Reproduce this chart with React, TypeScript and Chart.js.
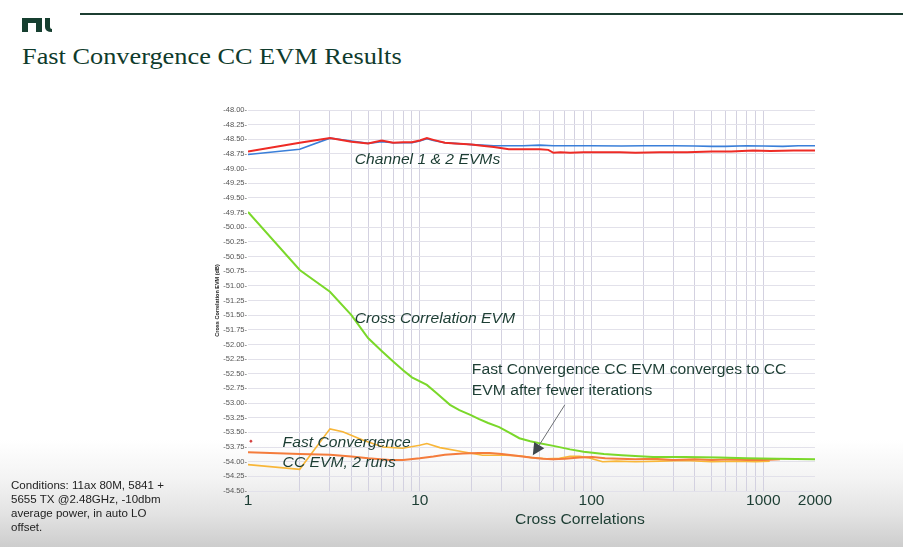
import { useEffect, useRef } from "react";
import { Chart, registerables } from "chart.js";

Chart.register(...registerables);

// ---- data ----
const redX = [1, 2, 3, 4, 5, 6, 7, 8, 9, 10, 11, 12, 14, 16, 18, 20, 23, 27, 33, 40, 50, 56, 60, 66, 75, 90, 110, 146, 180, 250, 360, 500, 650, 870, 1100, 1500, 2000];
const redY = [-48.71, -48.56, -48.48, -48.54, -48.57, -48.52, -48.56, -48.55, -48.55, -48.52, -48.48, -48.51, -48.56, -48.57, -48.58, -48.59, -48.61, -48.63, -48.67, -48.67, -48.67, -48.68, -48.73, -48.72, -48.73, -48.72, -48.72, -48.72, -48.73, -48.72, -48.72, -48.71, -48.71, -48.69, -48.7, -48.69, -48.69];

const blueX = [1, 2, 3, 4, 5, 6, 7, 8, 9, 10, 11, 12, 14, 16, 18, 20, 23, 27, 33, 40, 50, 60, 80, 100, 150, 200, 300, 400, 500, 600, 800, 1000, 1300, 1600, 2000];
const blueY = [-48.76, -48.67, -48.48, -48.53, -48.57, -48.54, -48.56, -48.56, -48.56, -48.53, -48.49, -48.52, -48.56, -48.57, -48.58, -48.59, -48.6, -48.61, -48.61, -48.61, -48.6, -48.61, -48.61, -48.61, -48.615, -48.61, -48.61, -48.615, -48.62, -48.62, -48.61, -48.615, -48.62, -48.61, -48.61];

const greenX = [1, 2, 3, 4, 5, 6, 7, 8, 9, 11, 12.5, 15, 17, 20, 22, 25, 29, 33, 38, 44, 49, 60, 75, 90, 118, 150, 228, 350, 555, 800, 1200, 2000];
const greenY = [-49.74, -50.73, -51.1, -51.5, -51.89, -52.11, -52.29, -52.44, -52.56, -52.69, -52.83, -53.03, -53.12, -53.21, -53.27, -53.34, -53.41, -53.5, -53.6, -53.65, -53.68, -53.73, -53.79, -53.83, -53.87, -53.89, -53.92, -53.92, -53.93, -53.94, -53.95, -53.96];

const orangeX = [1, 2, 3, 4, 5, 6.7, 8, 10, 12, 14, 17.8, 22, 25.5, 30, 34.6, 44, 52, 59.5, 70, 85, 101, 120, 146, 180, 230, 300, 400, 500, 650, 800, 1000, 1250];
const orangeY = [-53.84, -53.87, -53.88, -53.91, -53.94, -53.97, -53.97, -53.94, -53.91, -53.88, -53.86, -53.85, -53.85, -53.87, -53.89, -53.93, -53.95, -53.96, -53.95, -53.93, -53.92, -53.94, -53.95, -53.96, -53.95, -53.97, -53.96, -53.97, -53.96, -53.97, -53.97, -53.96];

const yellowX = [1, 2, 3, 3.56, 4.65, 6.1, 7.94, 10, 11, 13.1, 17.8, 23.2, 31.5, 38, 45, 55, 65, 75, 85, 95, 116, 140, 180, 250, 350, 500, 700, 900, 1090];
const yellowY = [-54.05, -54.13, -53.44, -53.49, -53.63, -53.75, -53.77, -53.72, -53.69, -53.76, -53.83, -53.89, -53.89, -53.9, -53.93, -53.95, -53.94, -53.91, -53.91, -53.93, -54.0, -53.99, -54.0, -53.99, -53.98, -54.0, -53.99, -54.0, -53.99];

const strayX = [1.04];
const strayY = [-53.65];

const xGridValues = [1, 2, 3, 4, 5, 6, 7, 8, 9, 10, 20, 30, 40, 50, 60, 70, 80, 90, 100, 200, 300, 400, 500, 600, 700, 800, 900, 1000, 2000];
const xTickLabels = [1, 10, 100, 1000, 2000];

const annotationTexts = [
  { text: "Channel 1 & 2 EVMs", x: 4.18, y: -48.85, italic: true },
  { text: "Cross Correlation EVM", x: 4.18, y: -51.57, italic: true },
  { text: "Fast Convergence CC EVM converges to CC", x: 20.1, y: -52.44, italic: false },
  { text: "EVM after fewer iterations", x: 20.1, y: -52.8, italic: false },
  { text: "Fast Convergence", x: 1.59, y: -53.68, italic: true },
  { text: "CC EVM, 2 runs", x: 1.59, y: -54.02, italic: true },
];
const arrowFrom = { x: 69.9, y: -53.03 };
const arrowTo = { x: 45.5, y: -53.89 };

const toPoints = (xs: number[], ys: number[]) => xs.map((x, i) => ({ x, y: ys[i] }));

const SANS = "'Liberation Sans', Arial, sans-serif";
const TEXT_GREEN = "#1c3d33";
const STRETCH = 1.12;

const annotationPlugin = {
  id: "annotations",
  afterDatasetsDraw(chart: any) {
    const { ctx, scales } = chart;
    const xs = scales.x;
    const ys = scales.y;
    ctx.save();
    for (const a of annotationTexts) {
      const px = xs.getPixelForValue(a.x);
      const py = ys.getPixelForValue(a.y);
      ctx.save();
      ctx.translate(px, py);
      ctx.scale(STRETCH, 1);
      ctx.font = `${a.italic ? "italic " : ""}14px ${SANS}`;
      ctx.fillStyle = TEXT_GREEN;
      ctx.textBaseline = "middle";
      ctx.textAlign = "left";
      ctx.fillText(a.text, 0, 0);
      ctx.restore();
    }
    const x1 = xs.getPixelForValue(arrowFrom.x);
    const y1 = ys.getPixelForValue(arrowFrom.y);
    const x2 = xs.getPixelForValue(arrowTo.x);
    const y2 = ys.getPixelForValue(arrowTo.y);
    const ang = Math.atan2(y2 - y1, x2 - x1);
    const headLen = 12;
    const headW = 6;
    const bx = x2 - headLen * Math.cos(ang);
    const by = y2 - headLen * Math.sin(ang);
    ctx.strokeStyle = "#6b6f72";
    ctx.lineWidth = 1;
    ctx.beginPath();
    ctx.moveTo(x1, y1);
    ctx.lineTo(bx, by);
    ctx.stroke();
    ctx.fillStyle = "#3f484d";
    ctx.beginPath();
    ctx.moveTo(x2, y2);
    ctx.lineTo(bx + headW * Math.sin(ang), by - headW * Math.cos(ang));
    ctx.lineTo(bx - headW * Math.sin(ang), by + headW * Math.cos(ang));
    ctx.closePath();
    ctx.fill();
    ctx.restore();
  },
};

export default function App() {
  const ref = useRef<HTMLCanvasElement>(null);

  useEffect(() => {
    const chart = new Chart(ref.current as HTMLCanvasElement, {
      type: "line",
      data: {
        datasets: [
          { data: toPoints(redX, redY), borderColor: "#ee2b25", borderWidth: 2 },
          { data: toPoints(blueX, blueY), borderColor: "#3a7fd9", borderWidth: 1.6 },
          { data: toPoints(greenX, greenY), borderColor: "#7ad82a", borderWidth: 2 },
          { data: toPoints(orangeX, orangeY), borderColor: "#f47c3c", borderWidth: 2 },
          { data: toPoints(yellowX, yellowY), borderColor: "#f8b638", borderWidth: 1.6 },
          {
            data: toPoints(strayX, strayY),
            borderColor: "#d23a3a",
            backgroundColor: "#d23a3a",
            showLine: false,
            pointRadius: 1,
          },
        ] as any,
      },
      plugins: [annotationPlugin],
      options: {
        animation: false,
        responsive: false,
        devicePixelRatio: 1,
        layout: { padding: { left: 214, top: 110, right: 88, bottom: 32 } },
        elements: { point: { radius: 0 }, line: { tension: 0 } },
        plugins: { legend: { display: false }, tooltip: { enabled: false } },
        scales: {
          x: {
            type: "logarithmic",
            min: 1,
            max: 2000,
            afterBuildTicks: (scale: any) => {
              scale.ticks = xGridValues.map((v) => ({ value: v }));
            },
            afterFit: (scale: any) => {
              scale.height = 24;
            },
            ticks: {
              autoSkip: false,
              maxRotation: 0,
              padding: 0,
              color: TEXT_GREEN,
              font: { family: SANS, size: 15.5 },
              callback: (value: any) => (xTickLabels.includes(Number(value)) ? String(value) : ""),
            },
            grid: {
              drawTicks: false,
              color: (c: any) =>
                c.tick && (c.tick.value === 1 || c.tick.value === 2000) ? "rgba(0,0,0,0)" : "#d3d1e0",
            },
            border: { display: false },
          },
          y: {
            type: "linear",
            min: -54.5,
            max: -48,
            afterFit: (scale: any) => {
              scale.width = 34;
            },
            ticks: {
              stepSize: 0.25,
              autoSkip: false,
              padding: 1,
              color: "#555",
              font: { family: SANS, size: 7.5 },
              callback: (value: any) => `${Number(value).toFixed(2)}-`,
            },
            grid: { drawTicks: false, color: "#e2e1ea" },
            border: { display: false },
            title: {
              display: true,
              text: "Cross Correlation EVM (dB)",
              color: "#222",
              font: { family: SANS, size: 5.5, weight: "bold" },
              padding: 0,
            },
          },
        },
      } as any,
    });
    return () => chart.destroy();
  }, []);

  return (
    <div
      style={{
        position: "fixed",
        left: 0,
        top: 0,
        width: 903,
        height: 547,
        overflow: "hidden",
        background:
          "linear-gradient(to bottom, #ffffff 0px, #ffffff 440px, #f3f3f3 480px, #e2e2e2 515px, #cdcdcd 547px)",
        fontFamily: SANS,
      }}
    >
      <div style={{ position: "absolute", left: 80, top: 13, width: 823, height: 2, background: "#1c3d31" }} />
      <svg style={{ position: "absolute", left: 22, top: 18 }} width={32} height={16} viewBox="0 0 32 16">
        <path d="M0,14 L0,0 L20,0 L20,14 L14,14 L14,5 L6,5 L6,14 Z" fill="#163f30" />
        <path d="M23,0 L28,0 L28,9 Q28,11 30,11 L30,14 Q23,14 23,9 Z" fill="#163f30" />
      </svg>
      <div
        style={{
          position: "absolute",
          left: 22,
          top: 45,
          fontFamily: "'Liberation Serif', 'Times New Roman', serif",
          fontSize: 23.5,
          lineHeight: "23px",
          color: "#0f3b2c",
          whiteSpace: "nowrap",
          transform: `scaleX(${STRETCH})`,
          transformOrigin: "left top",
        }}
      >
        Fast Convergence CC EVM Results
      </div>
      <canvas ref={ref} width={903} height={547} style={{ position: "absolute", left: 0, top: 0 }} />
      <div
        style={{
          position: "absolute",
          left: 580,
          top: 511,
          fontSize: 14,
          lineHeight: "16px",
          color: TEXT_GREEN,
          whiteSpace: "nowrap",
          transform: `translateX(-50%) scaleX(${STRETCH})`,
        }}
      >
        Cross Correlations
      </div>
      <div
        style={{
          position: "absolute",
          left: 11,
          top: 478,
          fontSize: 10.5,
          lineHeight: "14px",
          color: "#222",
          transform: "scaleX(1.1)",
          transformOrigin: "left top",
          width: 160,
        }}
      >
        Conditions: 11ax 80M, 5841 +<br />
        5655 TX @2.48GHz, -10dbm<br />
        average power, in auto LO<br />
        offset.
      </div>
    </div>
  );
}
